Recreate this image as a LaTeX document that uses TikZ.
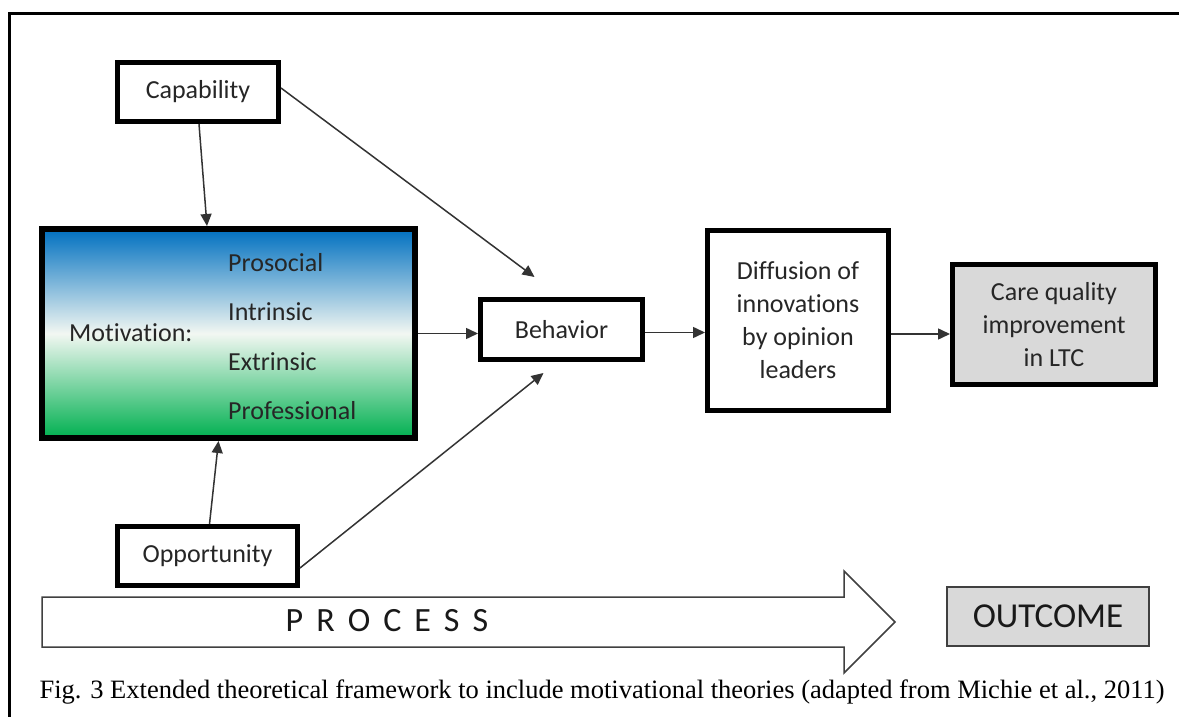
\documentclass[tikz,border=0pt]{standalone}
\usepackage{fontspec}
\setmainfont[Ligatures={NoCommon}]{Carlito}
\newfontfamily\capfont{Liberation Serif}
\usetikzlibrary{arrows.meta,calc}
\definecolor{mblue}{RGB}{0,112,192}
\definecolor{mgreen}{RGB}{0,176,80}
\definecolor{mmid}{RGB}{242,247,242}
\definecolor{boxgray}{RGB}{217,217,217}
\pgfdeclareverticalshading{motivshade}{100bp}{color(0bp)=(mgreen); color(25bp)=(mgreen); color(50bp)=(mmid); color(75bp)=(mblue); color(100bp)=(mblue)}
\begin{document}
\begin{tikzpicture}[x=1pt,y=-1pt,
  box/.style={draw=black, line width=5pt, inner sep=0pt, align=center, font=\fontsize{26}{33}\selectfont, text=black!85},
  lbl/.style={inner sep=0pt, font=\fontsize{26}{33}\selectfont, text=black!85},
  arr/.style={draw=black!80, line width=1.5pt, -{Triangle[length=12pt,width=11pt]}},
]
\useasboundingbox (0,0) rectangle (1179,717);
\fill[white] (0,0) rectangle (1179,717);
% frame
\draw[line width=3pt] (9,717) -- (9,14) -- (1179,14);

% nodes
\node[box, minimum width=161pt, minimum height=59pt] (cap) at (198,92) {Capability};
\node[box, line width=6pt, minimum width=373pt, minimum height=209pt, shading=motivshade] (motiv) at (228.5,333.5) {};
\node[lbl, anchor=west] (mlabel) at (69,333) {Motivation:};
\node[lbl, anchor=west] (pro) at (228,263) {Prosocial};
\node[lbl, anchor=west] (intr) at (228,312) {Intrinsic};
\node[lbl, anchor=west] (extr) at (228,362) {Extrinsic};
\node[lbl, anchor=west] (prof) at (228,411) {Professional};
\node[box, minimum width=162pt, minimum height=60pt] (beh) at (561.5,329.5) {Behavior};
\node[box, minimum width=181pt, minimum height=180pt] (diff) at (798,320.5) {Diffusion of\\innovations\\by opinion\\leaders};
\node[box, fill=boxgray, minimum width=203pt, minimum height=120pt] (care) at (1054,324.5) {Care quality\\improvement\\in LTC};
\node[box, minimum width=180pt, minimum height=59pt] (opp) at (207.5,556) {Opportunity};

% connectors
\draw[arr] ([xshift=1pt]cap.south) -- ([xshift=-21.5pt]motiv.north);
\draw[arr] ([yshift=4pt]cap.east) -- ([xshift=-27pt,yshift=20pt]beh.north);
\draw[arr] (motiv.east) -- (motiv.east -| beh.west);
\draw[arr] ([xshift=2pt]opp.north) -- ([xshift=-10pt]motiv.south);
\draw[arr] ([yshift=-12pt]opp.east) -- ([xshift=-18pt,yshift=-11pt]beh.south);
\draw[arr] ([yshift=-3pt]beh.east) -- ([yshift=-3pt]beh.east -| diff.west);
\draw[arr] ([yshift=-13.5pt]diff.east) -- ([yshift=-13.5pt]diff.east -| care.west);

% process arrow
\draw[draw=black!75, line width=1.5pt, fill=white, line join=miter] (42,597) -- (844,597) -- (844,571) -- (895,622) -- (844,673) -- (844,647) -- (42,647) -- cycle;
\node[inner sep=0pt, font=\fontsize{34}{40}\selectfont, text=black!90] (proctext) at (387,621) {P\kern13pt R\kern13pt O\kern13pt C\kern13pt E\kern13pt S\kern13pt S};
\node[draw=black!75, line width=1.5pt, fill=boxgray, inner sep=0pt, minimum width=202pt, minimum height=59pt, font=\fontsize{35}{40}\selectfont, text=black!90] (outcome) at (1048,616.5) {OUTCOME};

% caption
\node[inner sep=0pt, font=\capfont\fontsize{26.5}{30}\selectfont] (caption) at (602,692) {Fig. 3 Extended theoretical framework to include motivational theories (adapted from Michie et al., 2011)};
\end{tikzpicture}
\end{document}
